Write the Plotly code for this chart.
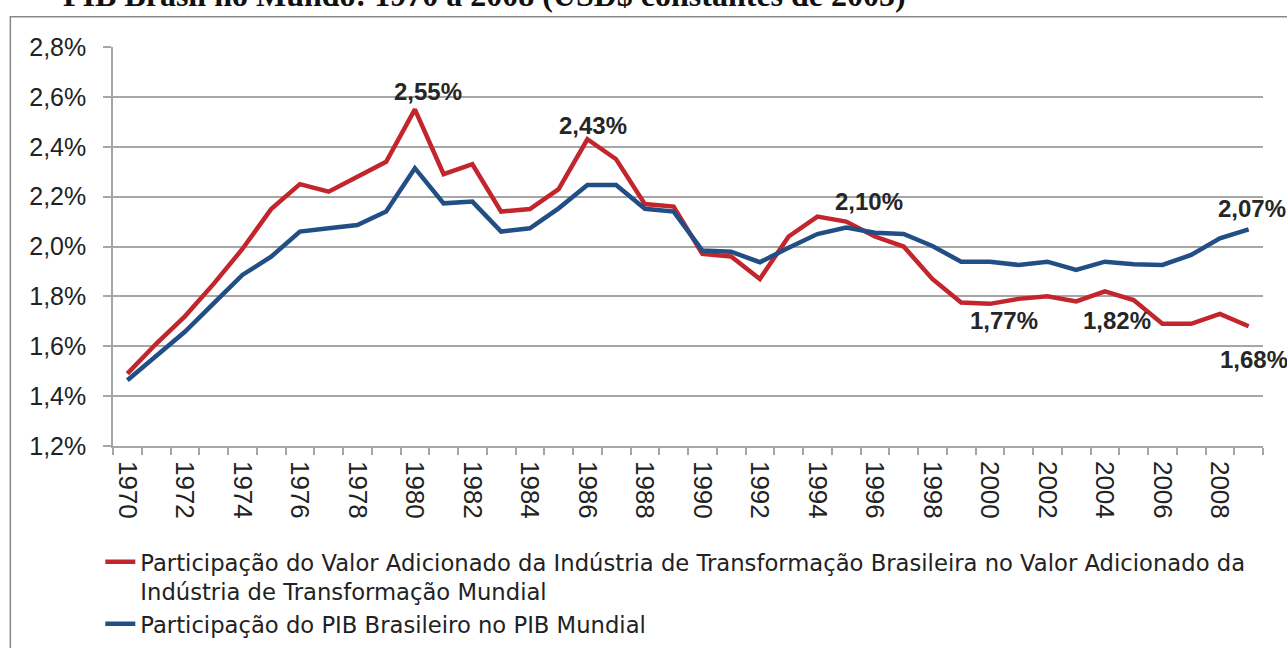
import plotly.graph_objects as go

# ---------------- data ----------------
years = list(range(1970, 2010))
industria = [1.49, 1.61, 1.72, 1.85, 1.99, 2.15, 2.25, 2.22, 2.28, 2.34,
             2.55, 2.29, 2.33, 2.14, 2.15, 2.23, 2.43, 2.35, 2.17, 2.16,
             1.97, 1.96, 1.87, 2.04, 2.12, 2.10, 2.04, 2.00, 1.87, 1.775,
             1.77, 1.79, 1.80, 1.78, 1.82, 1.785, 1.69, 1.69, 1.73, 1.68]
pib = [1.464, 1.562, 1.658, 1.772, 1.886, 1.959, 2.060, 2.073, 2.086, 2.140,
       2.314, 2.173, 2.180, 2.060, 2.073, 2.153, 2.247, 2.247, 2.151, 2.140,
       1.984, 1.979, 1.937, 1.995, 2.050, 2.076, 2.055, 2.050, 2.002, 1.939,
       1.939, 1.926, 1.939, 1.906, 1.939, 1.929, 1.926, 1.966, 2.033, 2.069]

x_tick_years = list(range(1970, 2010, 2))
x_tick_text = [str(y) for y in x_tick_years]
y_tick_vals = [1.2, 1.4, 1.6, 1.8, 2.0, 2.2, 2.4, 2.6, 2.8]
y_tick_text = ["1,2%", "1,4%", "1,6%", "1,8%", "2,0%", "2,2%", "2,4%", "2,6%", "2,8%"]

name_ind = ("Participação do Valor Adicionado da Indústria de Transformação Brasileira no Valor Adicionado da"
            "<br>Indústria de Transformação Mundial")
name_pib = "Participação do PIB Brasileiro no PIB Mundial"
title_text = "PIB Brasil no Mundo: 1970 a 2008 (USD$ constantes de 2005)"

# labelled points: (text, series, year, xshift, yshift)
point_labels = [
    ("2,55%", "ind", 1980, 13, 18),
    ("2,43%", "ind", 1986, 6, 14),
    ("2,10%", "ind", 1995, 23, 20),
    ("2,07%", "pib", 2009, 3, 21),
    ("1,77%", "ind", 2000, 14, -17),
    ("1,82%", "ind", 2004, 12, -29),
    ("1,68%", "ind", 2009, 5, -33),
]

RED = "#C3252D"
BLUE = "#224E86"
GRID = "#A6A6A6"
FONT = "Liberation Sans, Arial, sans-serif"
LEGEND_FONT = "DejaVu Sans, Liberation Sans, sans-serif"

W, H = 1287, 648
L, R, T, B = 112.7, 1263.3, 47.3, 445.7  # plot area in pixels


def px_to_paper_x(px):
    return (px - L) / (R - L)


def px_to_paper_y(py):
    return (B - py) / (B - T)


fig = go.Figure()
fig.add_trace(go.Scatter(x=years, y=industria, mode="lines", name=name_ind,
                         line=dict(color=RED, width=4.5)))
fig.add_trace(go.Scatter(x=years, y=pib, mode="lines", name=name_pib,
                         line=dict(color=BLUE, width=4.5)))

series = {"ind": industria, "pib": pib}
for text, s, yr, dx, dy in point_labels:
    fig.add_annotation(x=yr, y=series[s][years.index(yr)], text=text, showarrow=False,
                       xshift=dx, yshift=dy, xanchor="center", yanchor="middle",
                       font=dict(family=FONT, size=24, color="#262626", weight="bold"))

# cropped title
fig.add_annotation(xref="paper", yref="paper", x=px_to_paper_x(61), y=px_to_paper_y(15),
                   xanchor="left", yanchor="bottom", showarrow=False, text="<b>" + title_text + "</b>",
                   font=dict(family="Liberation Serif, Times New Roman, serif", size=32, color="#111111"))

# chart frame
fig.add_shape(type="rect", xref="paper", yref="paper",
              x0=px_to_paper_x(10), x1=px_to_paper_x(1300),
              y0=px_to_paper_y(660), y1=px_to_paper_y(17),
              line=dict(color="#888888", width=1.5), fillcolor="rgba(0,0,0,0)", layer="below")

fig.update_layout(
    width=W, height=H,
    margin=dict(l=L, r=W - R, t=T, b=H - B, pad=0, autoexpand=False),
    paper_bgcolor="white", plot_bgcolor="white",
    font=dict(family=FONT, color="#222222"),
    showlegend=True,
    legend=dict(x=px_to_paper_x(100), y=px_to_paper_y(540), xanchor="left", yanchor="top",
                font=dict(family=LEGEND_FONT, size=22.7, color="#222222"), valign="top",
                bgcolor="rgba(0,0,0,0)", tracegroupgap=0, itemwidth=30),
)

fig.update_xaxes(
    range=[1969.5, 2009.5], tickmode="array", tickvals=x_tick_years, ticktext=x_tick_text,
    tickangle=90, ticks="", showgrid=False, zeroline=False, automargin=False,
    showline=True, linecolor=GRID, linewidth=1.5,
    tickfont=dict(family=FONT, size=26, color="#222222"), ticklabelstandoff=8,
    minor=dict(tick0=1969.5, dtick=1, ticks="outside", ticklen=7, tickcolor=GRID, tickwidth=1.5,
               showgrid=False),
)
fig.update_yaxes(
    range=[1.2, 2.8], tickmode="array", tickvals=y_tick_vals, ticktext=y_tick_text,
    ticks="outside", ticklen=8, tickcolor=GRID, tickwidth=1.5, automargin=False,
    showgrid=True, gridcolor=GRID, gridwidth=1.5, zeroline=False,
    showline=True, linecolor=GRID, linewidth=1.5,
    tickfont=dict(family=FONT, size=25, color="#222222"), ticklabelstandoff=12,
)

post = "document.body.style.margin='0';document.body.style.overflow='hidden';"
fig.write_html("out.html", config={"displayModeBar": False}, post_script=post)
